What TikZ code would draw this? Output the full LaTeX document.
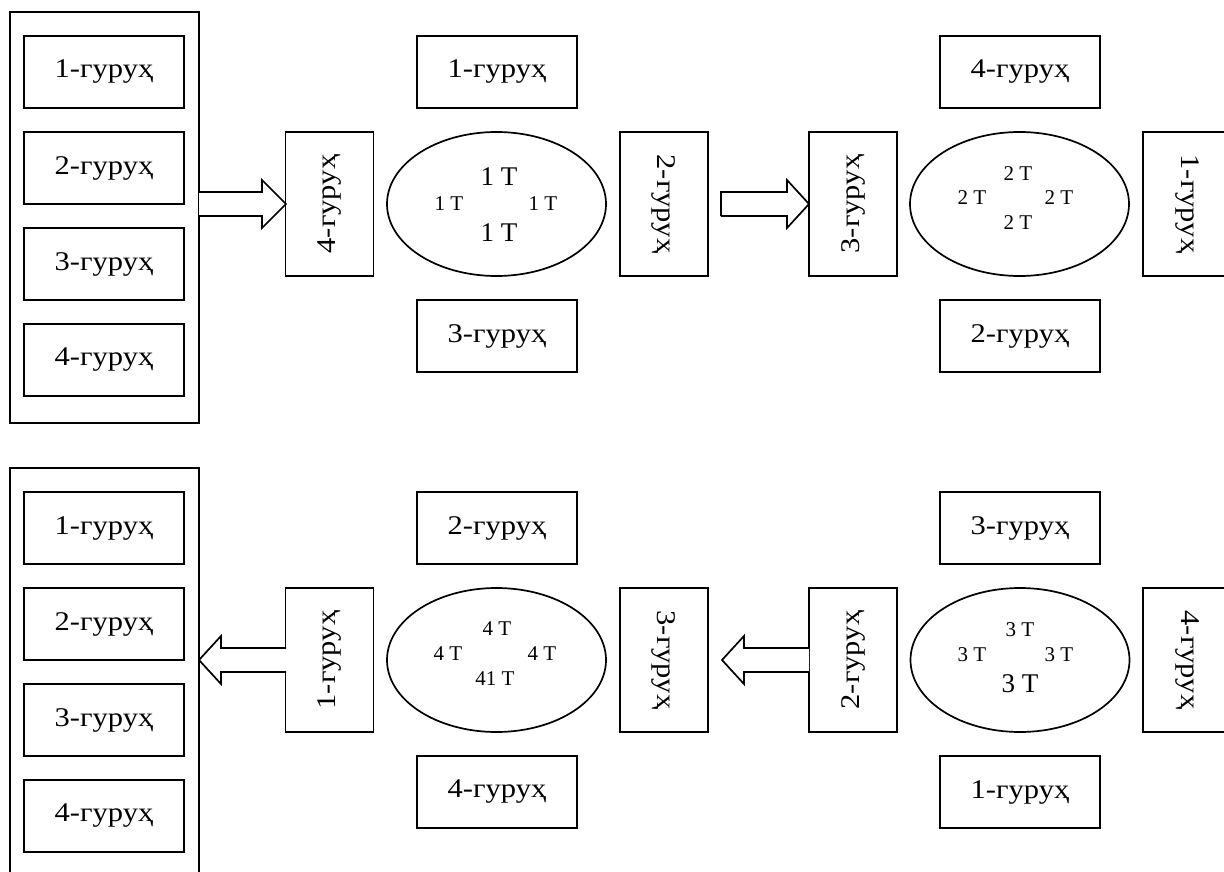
\documentclass[tikz,border=0pt]{standalone}
\usepackage{fontspec}
\setmainfont{Liberation Serif}
\newfontfamily\lblfont[FakeStretch=1.13]{Liberation Serif}
\usetikzlibrary{shapes.geometric}
\tikzset{
  lw/.style={line width=1.7pt},
  lbl/.style={font=\lblfont\fontsize{27}{30}\selectfont},
  gbox/.style={draw, lw, lbl, inner sep=0pt, minimum width=160pt, minimum height=72pt},
  vbox/.style={draw, lw, lbl, inner sep=0pt, minimum width=144pt, minimum height=88pt, rotate=#1},
  outerbox/.style={draw, lw, inner sep=0pt, minimum width=189pt, minimum height=411pt},
  oval/.style={draw, lw, ellipse, inner sep=0pt, minimum width=219pt, minimum height=144pt},
  bigt/.style={inner sep=0pt, font=\fontsize{27}{29}\selectfont},
  smallt/.style={inner sep=0pt, font=\fontsize{21}{23}\selectfont},
  blk/.style={draw, lw, fill=white, line join=miter}
}
\begin{document}
\begin{tikzpicture}[x=1pt,y=-1pt]
\useasboundingbox (0,0) rectangle (1224,872);
% ---------------- top row ----------------
\node[outerbox] (o1) at (104.5,217.5) {};
\node[gbox] (a1) at (104,72) {1-гуруҳ};
\node[gbox] (a2) at (104,168) {2-гуруҳ};
\node[gbox] (a3) at (104,264) {3-гуруҳ};
\node[gbox] (a4) at (104,360) {4-гуруҳ};
\node[vbox=90] (v1) at (329.5,204) {4-гуруҳ};
\node[oval] (e1) at (496.5,204) {};
\node[bigt] (e1t) at (499,177) {1 T};
\node[smallt] (e1l) at (449,204) {1 T};
\node[smallt] (e1r) at (543,204) {1 T};
\node[bigt] (e1b) at (499,233) {1 T};
\node[gbox] (t1) at (497,72) {1-гуруҳ};
\node[gbox] (b1) at (497,336) {3-гуруҳ};
\node[vbox=-90] (v2) at (664,204) {2-гуруҳ};
\node[vbox=90] (v3) at (853,204) {3-гуруҳ};
\node[oval] (e2) at (1019.5,204) {};
\node[smallt] (e2t) at (1018,174) {2 T};
\node[smallt] (e2l) at (972,198) {2 T};
\node[smallt] (e2r) at (1059,198) {2 T};
\node[smallt] (e2b) at (1018,223) {2 T};
\node[gbox] (t2) at (1020,72) {4-гуруҳ};
\node[gbox] (b2) at (1020,336) {2-гуруҳ};
\node[vbox=-90] (v4) at (1187,204) {1-гуруҳ};
% block arrows (top)
\draw[blk] (199,192) -- (262,192) -- (262,180) -- (286,204) -- (262,228) -- (262,216) -- (199,216);
\draw[blk] (721,216) -- (721,192) -- (787,192) -- (787,180) -- (809,204) -- (787,228) -- (787,216) -- (721,216);
% ---------------- bottom row ----------------
\node[outerbox] (o2) at (104.5,673.5) {};
\node[gbox] (c1) at (104,528) {1-гуруҳ};
\node[gbox] (c2) at (104,624) {2-гуруҳ};
\node[gbox] (c3) at (104,720) {3-гуруҳ};
\node[gbox] (c4) at (104,816) {4-гуруҳ};
\node[vbox=90] (w1) at (329.5,660) {1-гуруҳ};
\node[oval] (e3) at (496.5,660) {};
\node[smallt] (e3t) at (497,629) {4 T};
\node[smallt] (e3l) at (448,654) {4 T};
\node[smallt] (e3r) at (542,654) {4 T};
\node[smallt] (e3b) at (495,679) {41 T};
\node[gbox] (t3) at (497,528) {2-гуруҳ};
\node[gbox] (b3) at (497,792) {4-гуруҳ};
\node[vbox=-90] (w2) at (664,660) {3-гуруҳ};
\node[vbox=90] (w3) at (853,660) {2-гуруҳ};
\node[oval] (e4) at (1020,660) {};
\node[smallt] (e4t) at (1020,630) {3 T};
\node[smallt] (e4l) at (972,655) {3 T};
\node[smallt] (e4r) at (1059,655) {3 T};
\node[bigt] (e4b) at (1020,684) {3 T};
\node[gbox] (t4) at (1020,528) {3-гуруҳ};
\node[gbox] (b4) at (1020,792) {1-гуруҳ};
\node[vbox=-90] (w4) at (1187,660) {4-гуруҳ};
% block arrows (bottom)
\draw[blk] (286,648) -- (221,648) -- (221,636) -- (199,660) -- (221,684) -- (221,672) -- (286,672);
\draw[blk] (809,648) -- (744,648) -- (744,636) -- (722,660) -- (744,684) -- (744,672) -- (809,672);
\end{tikzpicture}
\end{document}
